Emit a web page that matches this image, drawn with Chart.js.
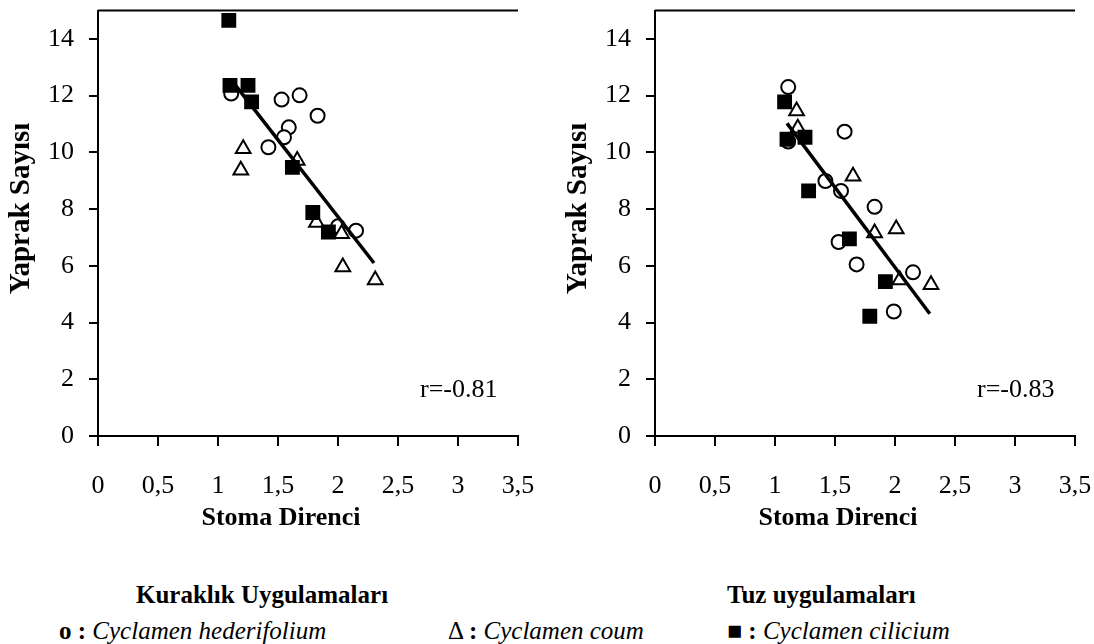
<!DOCTYPE html>
<html>
<head>
<meta charset="utf-8">
<script src="https://cdn.jsdelivr.net/npm/chart.js@4.4.1/dist/chart.umd.min.js"></script>
<style>
  body{margin:0;width:1094px;height:644px;overflow:hidden;background:#fff;position:relative;font-family:"Liberation Serif",serif;color:#000}
  canvas{position:absolute;top:0}
  #c1{left:0}
  #c2{left:557px}
  .leg{position:absolute;font-size:25px;white-space:nowrap;line-height:1}
  .leg b{font-weight:bold}
  .leg i{font-style:italic}
</style>
</head>
<body>
<canvas id="c1" width="540" height="540"></canvas>
<canvas id="c2" width="540" height="540"></canvas>

<div class="leg" style="left:136px;top:582px"><b>Kuraklık Uygulamaları</b></div>
<div class="leg" style="left:727px;top:582px"><b>Tuz uygulamaları</b></div>
<div class="leg" style="left:59px;top:618px"><b>o :</b> <i>Cyclamen hederifolium</i></div>
<div class="leg" style="left:448px;top:618px">Δ <b>:</b> <i>Cyclamen coum</i></div>
<div class="leg" style="left:727px;top:618px"><b>■ :</b> <i>Cyclamen cilicium</i></div>

<script>
// axis ticks
const xTicks = [0, 0.5, 1, 1.5, 2, 2.5, 3, 3.5];
const xTickLabels = ['0', '0,5', '1', '1,5', '2', '2,5', '3', '3,5'];
const yTicks = [0, 2, 4, 6, 8, 10, 12, 14];

// Kuraklık uygulamaları (drought)
const drHederX = [1.11, 1.53, 1.68, 1.83, 1.59, 1.55, 1.42, 2.00, 2.15];
const drHederY = [12.07, 11.86, 12.01, 11.29, 10.88, 10.53, 10.18, 7.39, 7.24];
const drCoumX = [1.21, 1.19, 1.66, 1.82, 2.03, 2.04, 2.31];
const drCoumY = [10.13, 9.37, 9.71, 7.53, 7.13, 5.96, 5.50];
const drCilX = [1.09, 1.10, 1.25, 1.28, 1.62, 1.79, 1.92];
const drCilY = [14.65, 12.36, 12.36, 11.78, 9.47, 7.88, 7.19];
const drFitX = [1.13, 2.30];
const drFitY = [12.45, 6.10];

// Tuz uygulamaları (salt)
const sHederX = [1.11, 1.11, 1.58, 1.42, 1.55, 1.83, 1.53, 1.68, 2.15, 1.99];
const sHederY = [12.30, 10.38, 10.73, 8.99, 8.64, 8.08, 6.84, 6.05, 5.77, 4.39];
const sCoumX = [1.18, 1.19, 1.65, 1.83, 2.01, 2.04, 2.30];
const sCoumY = [11.46, 10.85, 9.16, 7.16, 7.30, 5.50, 5.33];
const sCilX = [1.08, 1.10, 1.25, 1.28, 1.62, 1.92, 1.79];
const sCilY = [11.78, 10.46, 10.53, 8.64, 6.95, 5.44, 4.22];
const sFitX = [1.10, 2.29];
const sFitY = [11.02, 4.31];

function pts(xs, ys){ return xs.map((x, i) => ({x: x, y: ys[i]})); }

// top border, axis titles (placed like the original, a bit off centre) and r value
const framePlugin = {
  id: 'frame',
  afterDraw(chart, args, opts){
    const {ctx, chartArea: a} = chart;
    ctx.save();
    ctx.strokeStyle = '#000';
    ctx.lineWidth = 2;
    ctx.beginPath();
    ctx.moveTo(a.left, a.top);
    ctx.lineTo(a.right, a.top);
    ctx.stroke();

    ctx.fillStyle = '#000';
    ctx.textBaseline = 'middle';
    ctx.textAlign = 'left';
    ctx.font = '26px "Liberation Serif"';
    ctx.fillText(opts.text, a.right - 98, a.bottom - 46);

    ctx.textAlign = 'center';
    ctx.font = 'bold 26px "Liberation Serif"';
    ctx.fillText('Stoma Direnci', a.left + 183, a.bottom + 82);

    ctx.translate(22, a.top + 198);
    ctx.rotate(-Math.PI / 2);
    ctx.font = 'bold 29px "Liberation Serif"';
    ctx.fillText('Yaprak Sayısı', 0, 0);
    ctx.restore();
  }
};

function makeChart(id, heder, coum, cil, fit, rText){
  const font = {family: '"Liberation Serif", serif', size: 26};
  return new Chart(document.getElementById(id), {
    type: 'scatter',
    data: {
      datasets: [
        {data: cil, pointStyle: 'rect', radius: 10.5, backgroundColor: '#000', borderColor: '#000', borderWidth: 0, order: 0},
        {type: 'line', data: fit, borderColor: '#000', borderWidth: 3.5, pointRadius: 0, fill: false, order: 1},
        {data: coum, pointStyle: 'triangle', radius: 8.5, backgroundColor: '#fff', borderColor: '#000', borderWidth: 2, order: 2},
        {data: heder, pointStyle: 'circle', radius: 7, backgroundColor: '#fff', borderColor: '#000', borderWidth: 2, order: 3}
      ]
    },
    options: {
      responsive: false,
      animation: false,
      layout: {padding: {top: 6, right: 22, left: 0, bottom: 0}},
      plugins: {legend: {display: false}, tooltip: {enabled: false}, frame: {text: rText}},
      scales: {
        x: {
          type: 'linear', min: 0, max: 3.5,
          afterBuildTicks: s => { s.ticks = xTicks.map(v => ({value: v})); },
          afterFit: s => { s.height = 104; s.paddingLeft = 0; s.paddingRight = 0; },
          ticks: {color: '#000', font: font, padding: 25, maxRotation: 0,
                  callback: (v, i) => xTickLabels[i]},
          grid: {drawOnChartArea: false, drawTicks: true, tickLength: 10, color: '#000', lineWidth: 2},
          border: {display: true, color: '#000', width: 2}
        },
        y: {
          type: 'linear', min: 0, max: 15,
          afterBuildTicks: s => { s.ticks = yTicks.map(v => ({value: v})); },
          afterFit: s => { s.width = 98; s.paddingTop = 0; s.paddingBottom = 0; },
          ticks: {color: '#000', font: font, padding: 15},
          grid: {drawOnChartArea: false, drawTicks: true, tickLength: 9, color: '#000', lineWidth: 2},
          border: {display: true, color: '#000', width: 2}
        }
      }
    },
    plugins: [framePlugin]
  });
}

makeChart('c1', pts(drHederX, drHederY), pts(drCoumX, drCoumY), pts(drCilX, drCilY), pts(drFitX, drFitY), 'r=-0.81');
makeChart('c2', pts(sHederX, sHederY), pts(sCoumX, sCoumY), pts(sCilX, sCilY), pts(sFitX, sFitY), 'r=-0.83');
</script>
</body>
</html>
